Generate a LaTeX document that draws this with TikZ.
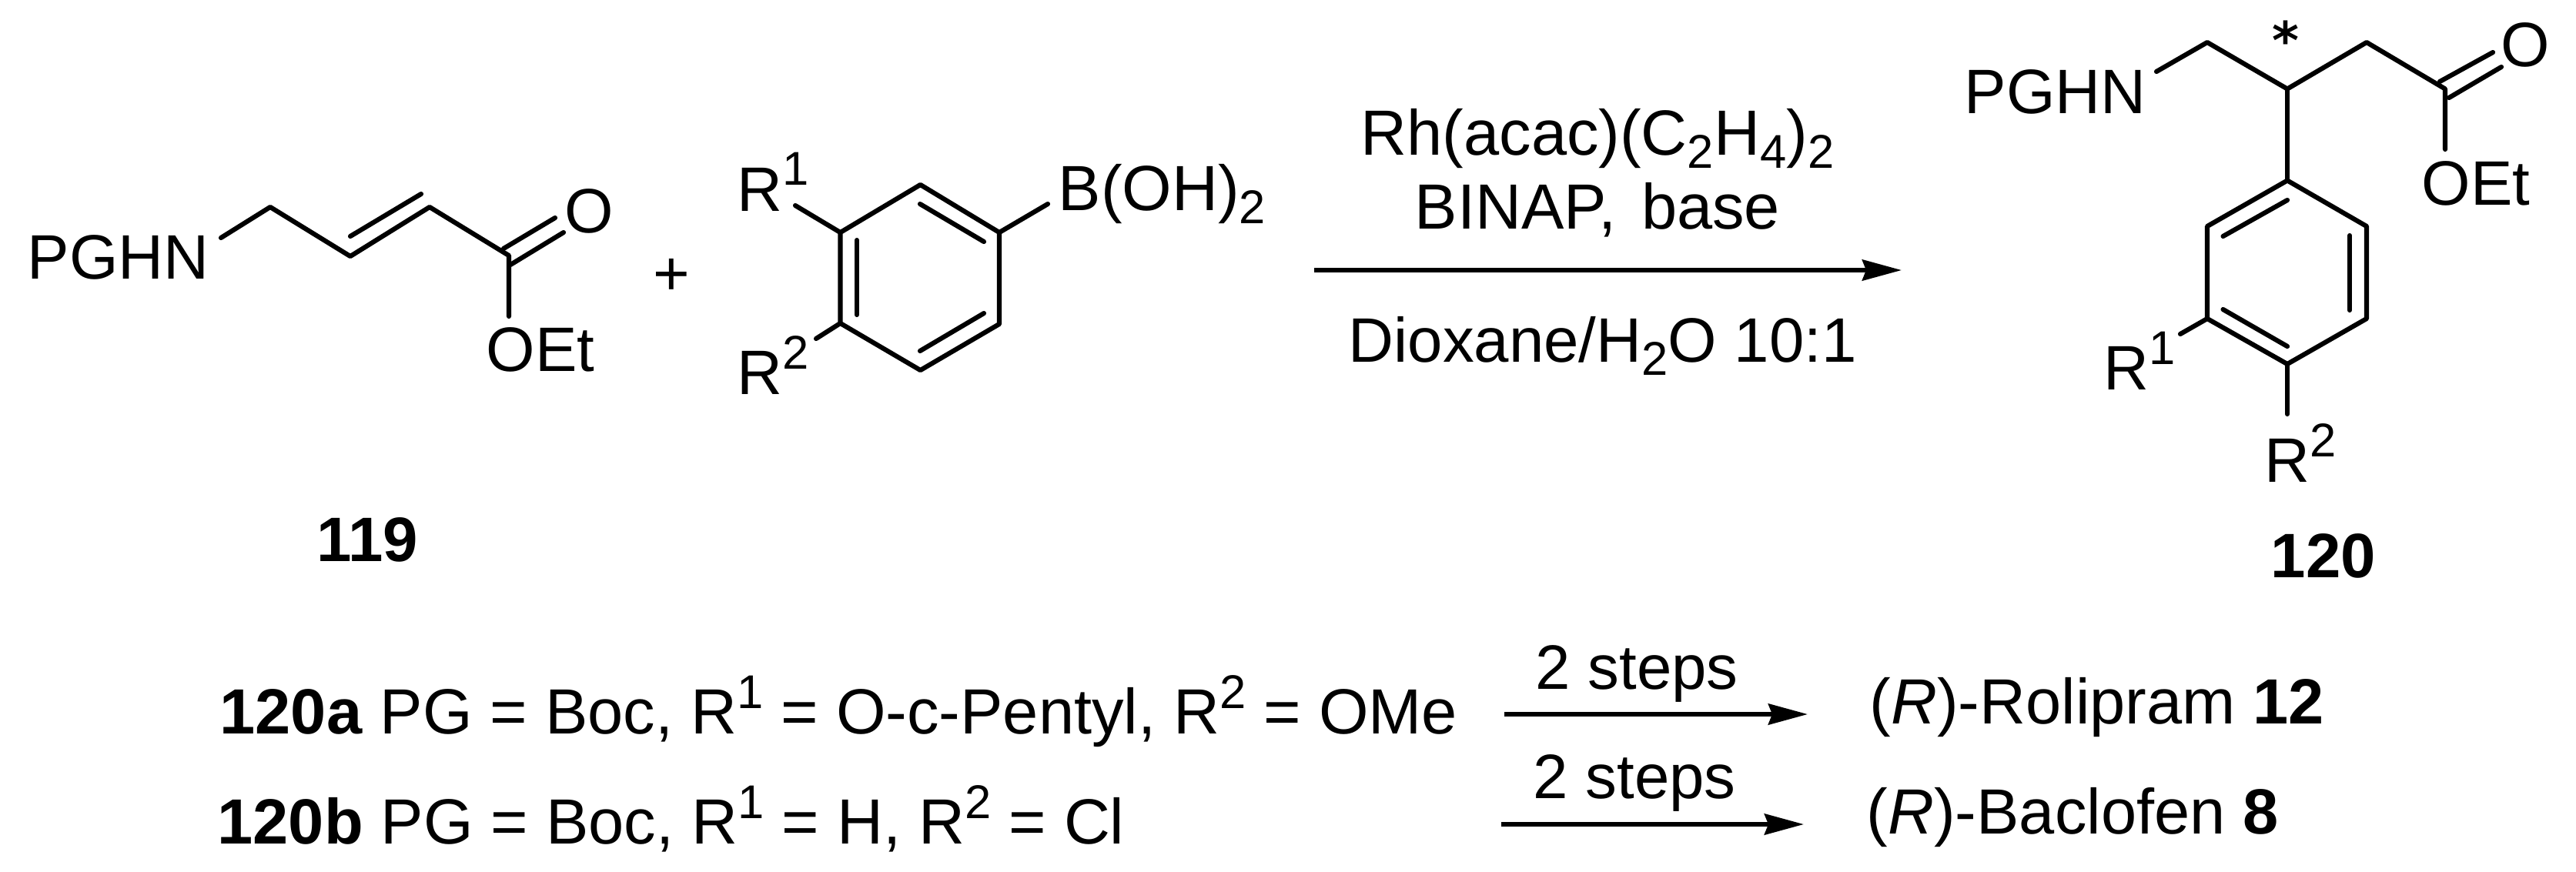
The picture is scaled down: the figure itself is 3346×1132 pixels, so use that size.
\documentclass[tikz,border=0pt]{standalone}
\usepackage{fontspec}
\setmainfont{Liberation Sans}
\newfontfamily\starfont{DejaVu Sans}
\usetikzlibrary{arrows.meta}
\newcommand{\supnum}[1]{\raisebox{0.33cm}{\fontsize{17.5}{17.5}\selectfont #1}}
\newcommand{\subnum}[1]{\raisebox{-0.175cm}{\fontsize{17.5}{17.5}\selectfont #1}}
\begin{document}
\begin{tikzpicture}[line cap=round,line join=round,x=0.01cm,y=-0.01cm,
  every node/.style={inner sep=0pt, anchor=base west, font=\fontsize{23.2}{27}\selectfont},
  wide/.style={font=\fontsize{23.6}{27}\selectfont},
  bond/.style={line width=1.75pt},
  rxn/.style={line width=0.06cm, line cap=butt, -{Stealth[length=0.51cm, width=0.27cm, inset=0.05cm]}}]
\useasboundingbox (0,0) rectangle (3346,1132);

% Alkene 119
\coordinate (N1) at (287,309);
\coordinate (C1) at (351,269);
\coordinate (C2) at (455,333);
\coordinate (C3) at (558,269);
\coordinate (C4) at (661,332);
\coordinate (O1) at (661,411);
\coordinate (C2i) at (455,307);
\coordinate (C3i) at (547,252);
\coordinate (Oa) at (654,323);
\coordinate (Ob) at (721,283);
\coordinate (Oc) at (663,344);
\coordinate (Od) at (732,302);

\draw [bond] (N1) -- (C1) -- (C2) -- (C3) -- (C4) -- (O1);
\draw [bond] (C2i) -- (C3i);
\draw [bond] (Oa) -- (Ob);
\draw [bond] (Oc) -- (Od);

% Boronic acid
\coordinate (A1) at (1091.5,302);
\coordinate (A2) at (1195.5,240);
\coordinate (A3) at (1298,302);
\coordinate (A4) at (1298,421);
\coordinate (A5) at (1195.5,481);
\coordinate (A6) at (1091.5,420);
\coordinate (AR1) at (1033,267);
\coordinate (AR2) at (1060,440);
\coordinate (AB) at (1361,265);
\coordinate (Ai1) at (1113,312);
\coordinate (Ai2) at (1113,409);
\coordinate (Ai3) at (1195,265);
\coordinate (Ai4) at (1278,314);
\coordinate (Ai5) at (1278,407);
\coordinate (Ai6) at (1195,456);

\draw [bond] (A1) -- (A2) -- (A3) -- (A4) -- (A5) -- (A6) -- cycle;
\draw [bond] (A1) -- (AR1);
\draw [bond] (A6) -- (AR2);
\draw [bond] (A3) -- (AB);
\draw [bond] (Ai1) -- (Ai2);
\draw [bond] (Ai3) -- (Ai4);
\draw [bond] (Ai5) -- (Ai6);

% Product 120
\coordinate (N2) at (2801,93);
\coordinate (P1) at (2867,55);
\coordinate (P2) at (2971,115.5);
\coordinate (P3) at (3074,55);
\coordinate (P4) at (3176,115.5);
\coordinate (O2) at (3176,194);
\coordinate (Pa) at (3169,106);
\coordinate (Pb) at (3238,68);
\coordinate (Pc) at (3181,127);
\coordinate (Pd) at (3249,87);
\coordinate (B1) at (2971,234.5);
\coordinate (B2) at (3074,294);
\coordinate (B3) at (3074,414);
\coordinate (B4) at (2971,473);
\coordinate (B5) at (2867,414);
\coordinate (B6) at (2867,294);
\coordinate (BR1) at (2832,434);
\coordinate (BR2) at (2971,538);
\coordinate (Bi1) at (2971,260);
\coordinate (Bi2) at (2887.5,307);
\coordinate (Bi3) at (3052,306);
\coordinate (Bi4) at (3052,403);
\coordinate (Bi5) at (2887.5,402);
\coordinate (Bi6) at (2971,450);

\draw [bond] (N2) -- (P1) -- (P2) -- (P3) -- (P4) -- (O2);
\draw [bond] (Pa) -- (Pb);
\draw [bond] (Pc) -- (Pd);
\draw [bond] (P2) -- (B1);
\draw [bond] (B1) -- (B2) -- (B3) -- (B4) -- (B5) -- (B6) -- cycle;
\draw [bond] (B5) -- (BR1);
\draw [bond] (B4) -- (BR2);
\draw [bond] (Bi1) -- (Bi2);
\draw [bond] (Bi3) -- (Bi4);
\draw [bond] (Bi5) -- (Bi6);

% Atom labels
\node (pghnA) at (35,362) {PGHN};
\node [anchor=base] (oxoA) at (765,302) {O};
\node (oetA) at (631,482) {OEt};
\node [anchor=base] (plus) at (872,383) {+};
\node (rOneA) at (957,274) {R\supnum{1}};
\node (rTwoA) at (957,512) {R\supnum{2}};
\node [wide] (boron) at (1374,273) {B(OH)\subnum{2}};
\node (pghnB) at (2551,147) {PGHN};
\node [anchor=base] (oxoB) at (3280,86) {O};
\node (oetB) at (3145,266) {OEt};
\node [anchor=base, font=\fontsize{19}{22}\starfont\bfseries] (star) at (2969,76) {*};
\node (rOneB) at (2732,506) {R\supnum{1}};
\node (rTwoB) at (2941,626) {R\supnum{2}};

% Compound numbers
\node [anchor=base] (cmpA) at (477,729) {\textbf{119}};
\node [anchor=base] (cmpB) at (3018,750) {\textbf{120}};

% Main reaction
\coordinate (S1) at (1707,351);
\coordinate (E1) at (2470,351);
\draw [rxn] (S1) -- (E1);
\node [wide] (rhcat) at (1767,201) {Rh(acac)(C\subnum{2}H\subnum{4})\subnum{2}};
\node [wide] (binap) at (1837,297) {BINAP,\hspace{0.33cm}base};
\node (solv) at (1751,470) {Dioxane/H\subnum{2}O 10:1};

% Table of substrates
\node [wide] (rowA) at (285,953) {\textbf{120a} PG = Boc, R\supnum{1} = O-c-Pentyl, R\supnum{2} = OMe};
\node [wide] (rowB) at (282,1096) {\textbf{120b} PG = Boc, R\supnum{1} = H, R\supnum{2} = Cl};

\coordinate (S2) at (1954,928);
\coordinate (E2) at (2348,928);
\coordinate (S3) at (1950,1071);
\coordinate (E3) at (2343,1071);
\draw [rxn] (S2) -- (E2);
\draw [rxn] (S3) -- (E3);
\node (stepsA) at (1994,895) {2 steps};
\node (stepsB) at (1991,1037) {2 steps};
\node [wide] (rolipram) at (2428,940) {(\textit{R})-Rolipram \textbf{12}};
\node [wide] (baclofen) at (2424,1083) {(\textit{R})-Baclofen \textbf{8}};
\end{tikzpicture}
\end{document}
